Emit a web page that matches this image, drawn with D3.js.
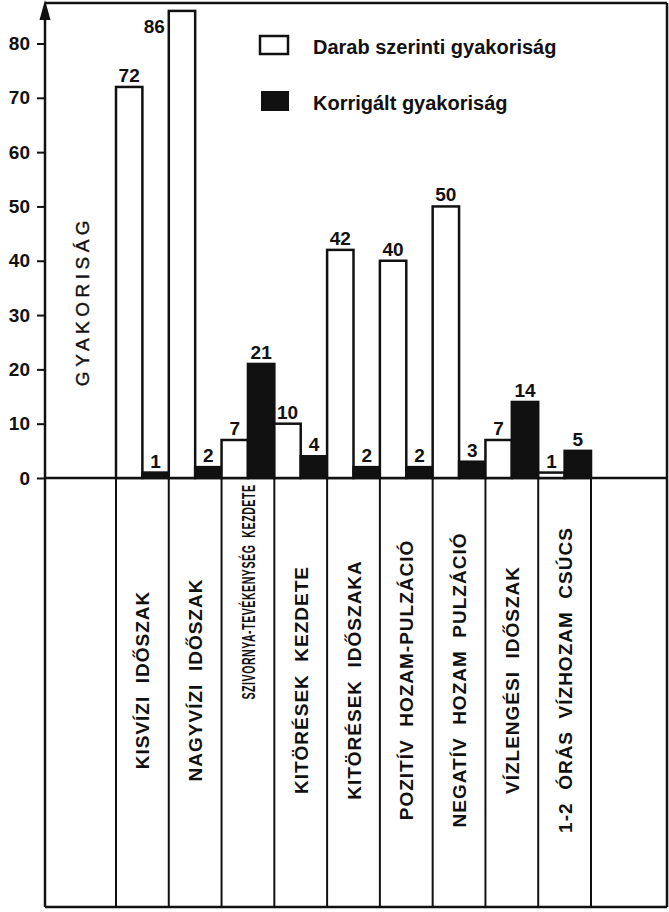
<!DOCTYPE html>
<html>
<head>
<meta charset="utf-8">
<script src="https://cdn.jsdelivr.net/npm/d3@7"></script>
<style>
  html, body { margin: 0; padding: 0; background: #fff; }
  svg { display: block; font-family: "Liberation Sans", Arial, sans-serif; }
  .cat { white-space: pre; }
</style>
</head>
<body>
<svg id="chart" width="669" height="912"></svg>
<script>
// ---- data ----
const categories = [
  "KISVÍZI  IDŐSZAK",
  "NAGYVÍZI  IDŐSZAK",
  "SZIVORNYA-TEVÉKENYSÉG  KEZDETE",
  "KITÖRÉSEK  KEZDETE",
  "KITÖRÉSEK  IDŐSZAKA",
  "POZITÍV  HOZAM-PULZÁCIÓ",
  "NEGATÍV  HOZAM  PULZÁCIÓ",
  "VÍZLENGÉSI  IDŐSZAK",
  "1-2  ÓRÁS  VÍZHOZAM  CSÚCS"
];
const seriesNames = ["Darab szerinti gyakoriság", "Korrigált gyakoriság"];
const darabValues = [72, 86, 7, 10, 42, 40, 50, 7, 1];
const korrigaltValues = [1, 2, 21, 4, 2, 2, 3, 14, 5];
const yTickValues = [0, 10, 20, 30, 40, 50, 60, 70, 80];
const yTitle = "GYAKORISÁG";

// ---- layout ----
const svg = d3.select("#chart");
const axisX = 45, topY = 3, zeroY = 478, bottomY = 907, rightX = 667;
const bandLeft = 116, bandRight = 591;
const ink = "#111";

const y = d3.scaleLinear().domain([0, 80]).range([zeroY, 43.5]);
const x = d3.scaleBand().domain(d3.range(categories.length)).range([bandLeft, bandRight]).padding(0);
const xs = d3.scaleBand().domain([0, 1]).range([0, x.bandwidth()]).padding(0);
const seriesValues = [darabValues, korrigaltValues];
const fills = ["#fff", ink];

// frame
svg.append("line").attr("x1", axisX).attr("x2", rightX).attr("y1", topY).attr("y2", topY)
  .attr("stroke", ink).attr("stroke-width", 2.5);
svg.append("line").attr("x1", rightX).attr("x2", rightX).attr("y1", topY).attr("y2", bottomY)
  .attr("stroke", ink).attr("stroke-width", 2.5);
svg.append("line").attr("x1", axisX).attr("x2", rightX).attr("y1", bottomY).attr("y2", bottomY)
  .attr("stroke", ink).attr("stroke-width", 2.5);
svg.append("line").attr("x1", axisX).attr("x2", axisX).attr("y1", 12).attr("y2", bottomY)
  .attr("stroke", ink).attr("stroke-width", 2.5);
// arrow
svg.append("path").attr("d", `M${axisX},0 L${axisX - 5.5},20 L${axisX + 5.5},20 Z`).attr("fill", ink);

// dividers below zero
svg.append("g").selectAll("line")
  .data(d3.range(categories.length + 1))
  .join("line")
  .attr("x1", i => bandLeft + i * x.step())
  .attr("x2", i => bandLeft + i * x.step())
  .attr("y1", zeroY).attr("y2", bottomY)
  .attr("stroke", ink).attr("stroke-width", 2);

// y axis ticks
const yAxis = d3.axisLeft(y).tickValues(yTickValues).tickSize(8).tickPadding(7);
const gy = svg.append("g").attr("transform", `translate(${axisX},0)`).call(yAxis);
gy.select(".domain").remove();
gy.selectAll(".tick line").attr("stroke", ink).attr("stroke-width", 2);
gy.selectAll(".tick text").attr("fill", ink).attr("font-size", 19).attr("font-weight", "bold")
  .attr("font-family", "'Liberation Sans', Arial, sans-serif");

// zero line
svg.append("line").attr("x1", axisX).attr("x2", rightX).attr("y1", zeroY).attr("y2", zeroY)
  .attr("stroke", ink).attr("stroke-width", 2.5);

// bars
const barData = [];
categories.forEach((c, i) => {
  seriesValues.forEach((vals, s) => barData.push({ i, s, v: vals[i] }));
});
svg.append("g").selectAll("rect")
  .data(barData)
  .join("rect")
  .attr("x", d => x(d.i) + xs(d.s))
  .attr("width", xs.bandwidth())
  .attr("y", d => y(d.v))
  .attr("height", d => y(0) - y(d.v))
  .attr("fill", d => fills[d.s])
  .attr("stroke", ink).attr("stroke-width", 2.5);

// value labels
svg.append("g").selectAll("text")
  .data(barData)
  .join("text")
  .attr("x", d => {
    const cx = x(d.i) + xs(d.s) + xs.bandwidth() / 2;
    return y(d.v) < 30 ? x(d.i) + xs(d.s) - 4 : cx;
  })
  .attr("y", d => y(d.v) < 30 ? y(d.v) + 22 : y(d.v) - 5)
  .attr("text-anchor", d => y(d.v) < 30 ? "end" : "middle")
  .attr("font-size", 19).attr("font-weight", "bold").attr("fill", ink)
  .text(d => d.v);

// y title
svg.append("text")
  .attr("transform", `translate(89,301) rotate(-90)`)
  .attr("text-anchor", "middle")
  .attr("font-size", 19).attr("fill", ink)
  .attr("stroke", ink).attr("stroke-width", 0.4)
  .attr("letter-spacing", 4.5)
  .text(yTitle);

// category labels
svg.append("g").selectAll("text")
  .data(categories)
  .join("text")
  .attr("class", "cat")
  .attr("transform", (c, i) => {
    const cx = x(i) + x.bandwidth() / 2 + 7;
    const cy = i === 2 ? 592 : 680;
    return `translate(${cx},${cy}) rotate(-90)`;
  })
  .attr("text-anchor", "middle")
  .attr("font-size", 19).attr("font-weight", "bold").attr("fill", ink)
  .attr("letter-spacing", 1)
  .each(function (c, i) {
    if (i === 2) d3.select(this).attr("textLength", 215).attr("lengthAdjust", "spacingAndGlyphs");
  })
  .text(c => c);

// legend
const legend = svg.append("g");
legend.append("rect").attr("x", 260).attr("y", 36).attr("width", 28).attr("height", 18)
  .attr("fill", "#fff").attr("stroke", ink).attr("stroke-width", 2.5);
legend.append("rect").attr("x", 261).attr("y", 91).attr("width", 28).attr("height", 20)
  .attr("fill", ink);
legend.selectAll("text.leg")
  .data(seriesNames)
  .join("text")
  .attr("class", "leg")
  .attr("x", 313)
  .attr("y", (d, i) => i === 0 ? 54 : 110)
  .attr("font-size", 20).attr("font-weight", "bold").attr("fill", ink)
  .text(d => d);
</script>
</body>
</html>
